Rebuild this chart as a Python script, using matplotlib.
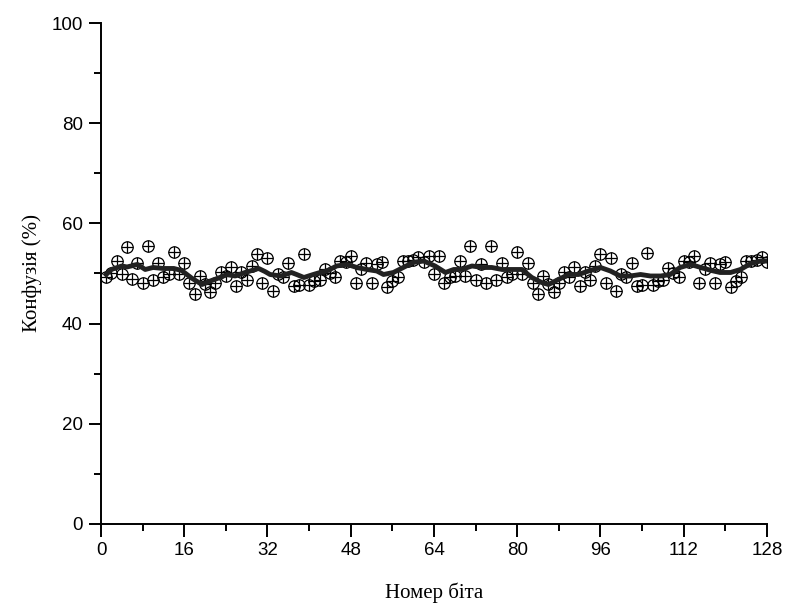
import numpy as np
import matplotlib
matplotlib.use("Agg")
import matplotlib.pyplot as plt
from matplotlib.ticker import MultipleLocator

# bit number 1..128, confusion values
bits = np.arange(1, 129)
confusion = [
    49.2, 50.0, 52.4, 49.8, 55.3, 49.0, 52.0, 48.2, 55.5, 48.8,
    52.0, 49.2, 49.8, 54.2, 49.8, 52.0, 48.2, 46.0, 49.4, 48.0,
    46.4, 48.2, 50.2, 49.5, 51.2, 47.5, 50.2, 48.8, 51.5, 53.8,
    48.2, 53.0, 46.5, 49.8, 49.2, 52.0, 47.6, 47.8, 53.8, 47.8,
    48.5, 48.8, 50.8, 50.0, 49.2, 52.4, 52.2, 53.4, 48.2, 50.8,
    52.0, 48.2, 51.8, 52.2, 47.4, 48.5, 49.2, 52.4, 52.4, 52.6,
    53.3, 52.2, 53.5, 49.8, 53.5, 48.2, 49.2, 49.5, 52.4, 49.5,
    55.5, 48.8, 51.8, 48.2, 55.5, 48.8, 52.0, 49.2, 49.8, 54.2,
    49.8, 52.0, 48.2, 46.0, 49.5, 48.0, 46.4, 48.2, 50.3, 49.2,
    51.2, 47.5, 50.2, 48.8, 51.5, 53.8, 48.2, 53.0, 46.5, 49.8,
    49.2, 52.0, 47.6, 47.8, 54.0, 47.8, 48.5, 48.8, 51.0, 50.0,
    49.2, 52.4, 52.2, 53.5, 48.2, 50.8, 52.0, 48.2, 51.8, 52.2,
    47.4, 48.5, 49.2, 52.4, 52.4, 52.6, 53.3, 52.2,
]

# smoothed curve
smooth_x = [1, 2, 4, 5, 7, 8.5, 10, 12, 14, 15.5, 17.4, 19.4, 21, 22.6, 24.2,
            25.8, 27.7, 30.3, 31.5, 32.5, 34.6, 36.6, 37.6, 39, 40.8, 42.1,
            43.4, 45.3, 47.3, 49.2, 51.1, 53, 54.3, 56.2, 58.1, 60, 62, 64.2,
            66.2, 67.8, 69.3, 71.3, 73.3, 75.1, 77.1, 79, 80.9, 82.8, 84.7,
            86, 87.9, 89.9, 91.8, 93.7, 96, 97.9, 99.8, 101.7, 103.7, 105.6,
            107.6, 109.4, 111.3, 113.3, 115.3, 117.3, 119, 121, 122.9, 124.9,
            126.8, 128]
smooth_y = [49.8, 50.8, 51.5, 51.3, 51.8, 50.8, 51.2, 51.0, 51.0, 50.6, 49.1,
            47.8, 48.5, 49.1, 49.8, 49.5, 50.2, 51.0, 50.4, 49.8, 49.5, 50.2,
            49.8, 49.2, 49.8, 50.2, 50.5, 51.5, 51.8, 51.2, 50.8, 50.5, 49.8,
            50.2, 51.2, 52.2, 52.5, 51.5, 50.2, 50.8, 50.8, 51.5, 51.2, 51.2,
            50.8, 50.8, 50.8, 49.2, 48.2, 47.8, 48.8, 49.8, 49.8, 50.5, 51.2,
            50.5, 49.5, 49.5, 49.8, 49.5, 49.5, 49.8, 51.2, 51.8, 51.2, 50.6,
            50.2, 50.2, 50.8, 52.0, 52.5, 52.5]

fig = plt.figure(figsize=(7.86, 6.04), dpi=100)
ax = fig.add_axes([0.1285, 0.1325, 0.8473, 0.8294])

ax.plot(bits, confusion, linestyle='none', marker='o', markersize=8.2,
        markerfacecolor='none', markeredgecolor='black', markeredgewidth=0.9)
ax.plot(bits, confusion, linestyle='none', marker='+', markersize=8.2,
        markeredgecolor='black', markeredgewidth=0.9)
ax.plot(smooth_x, smooth_y, color='#222222', linewidth=3.5, zorder=3)

ax.set_xlim(0, 128)
ax.set_ylim(0, 100)
ax.xaxis.set_major_locator(MultipleLocator(16))
ax.xaxis.set_minor_locator(MultipleLocator(8))
ax.yaxis.set_major_locator(MultipleLocator(20))
ax.yaxis.set_minor_locator(MultipleLocator(10))

for s in ['top', 'right']:
    ax.spines[s].set_visible(False)
for s in ['left', 'bottom']:
    ax.spines[s].set_linewidth(1.4)
ax.tick_params(which='major', direction='out', length=9, width=1.4,
               labelsize=13.5, pad=4)
ax.tick_params(which='minor', direction='out', length=5, width=1.4)
for lab in ax.get_xticklabels() + ax.get_yticklabels():
    lab.set_family('Liberation Sans')

ax.set_xlabel('Номер біта', family='Liberation Serif', fontsize=15, labelpad=17)
ax.set_ylabel('Конфузія (%)', family='Liberation Serif', fontsize=15, labelpad=7)

fig.savefig('out.png', dpi=100)
